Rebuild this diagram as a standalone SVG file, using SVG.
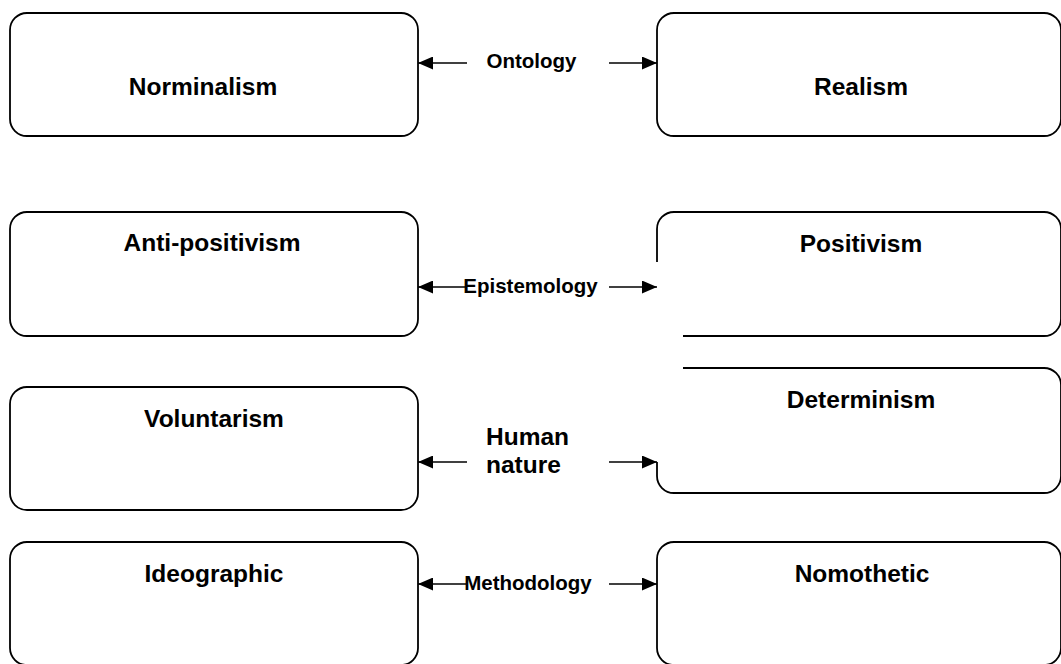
<svg xmlns="http://www.w3.org/2000/svg" width="1061" height="664" viewBox="0 0 1061 664">
  <style>
    .box { fill: #ffffff; stroke: #000000; stroke-width: 1.8; }
    .open { fill: none; stroke: #000000; stroke-width: 1.8; }
    .lbl { font-family: "Liberation Sans", Arial, sans-serif; font-weight: bold; font-size: 24.5px; fill: #000000; }
    .conn-lbl { font-family: "Liberation Sans", Arial, sans-serif; font-weight: bold; font-size: 20.5px; fill: #000000; }
    .link { stroke: #000000; stroke-width: 1.6; fill: none; marker-end: url(#head); }
  </style>
  <defs>
    <marker id="head" viewBox="0 0 15 13" refX="15" refY="6.5" markerWidth="15" markerHeight="13" markerUnits="userSpaceOnUse" orient="auto">
      <path d="M0,0 L15,6.5 L0,13 Z" fill="#000000"/>
    </marker>
  </defs>
  <rect width="1061" height="664" fill="#ffffff"/>

  <!-- left column -->
  <g id="norminalism">
    <rect class="box" x="10" y="13" width="408" height="123" rx="17"/>
    <text class="lbl" x="203" y="95" text-anchor="middle">Norminalism</text>
  </g>
  <g id="anti-positivism">
    <rect class="box" x="10" y="212" width="408" height="124" rx="17"/>
    <text class="lbl" x="212" y="251" text-anchor="middle">Anti-positivism</text>
  </g>
  <g id="voluntarism">
    <rect class="box" x="10" y="387" width="408" height="123" rx="17"/>
    <text class="lbl" x="214" y="427" text-anchor="middle">Voluntarism</text>
  </g>
  <g id="ideographic">
    <rect class="box" x="10" y="542" width="408" height="123" rx="17"/>
    <text class="lbl" x="214" y="582" text-anchor="middle">Ideographic</text>
  </g>

  <!-- right column -->
  <g id="realism">
    <rect class="box" x="657" y="13" width="404" height="123" rx="17"/>
    <text class="lbl" x="861" y="95" text-anchor="middle">Realism</text>
  </g>
  <g id="positivism">
    <path class="open" d="M657,262 L657,229 A17,17 0 0 1 674,212 L1044,212 A17,17 0 0 1 1061,229 L1061,319 A17,17 0 0 1 1044,336 L683,336"/>
    <text class="lbl" x="861" y="252" text-anchor="middle">Positivism</text>
  </g>
  <g id="determinism">
    <path class="open" d="M683,368 L1044,368 A17,17 0 0 1 1061,385 L1061,476 A17,17 0 0 1 1044,493 L674,493 A17,17 0 0 1 657,476 L657,462"/>
    <text class="lbl" x="861" y="408" text-anchor="middle">Determinism</text>
  </g>
  <g id="nomothetic">
    <rect class="box" x="657" y="542" width="404" height="123" rx="17"/>
    <text class="lbl" x="862" y="582" text-anchor="middle">Nomothetic</text>
  </g>

  <!-- connectors -->
  <g id="connectors">
    <line class="link" x1="467" y1="63" x2="418" y2="63"/>
    <line class="link" x1="609" y1="63" x2="657" y2="63"/>
    <text class="conn-lbl" x="531.5" y="68" text-anchor="middle">Ontology</text>

    <line class="link" x1="466" y1="287" x2="418" y2="287"/>
    <line class="link" x1="609" y1="287" x2="657" y2="287"/>
    <text class="conn-lbl" x="530.5" y="293" text-anchor="middle">Epistemology</text>

    <line class="link" x1="467" y1="462" x2="418" y2="462"/>
    <line class="link" x1="609" y1="462" x2="657" y2="462"/>
    <text class="lbl" x="486" y="445">Human</text>
    <text class="lbl" x="486" y="473">nature</text>

    <line class="link" x1="466" y1="584" x2="418" y2="584"/>
    <line class="link" x1="609" y1="584" x2="657" y2="584"/>
    <text class="conn-lbl" x="528" y="590" text-anchor="middle">Methodology</text>
  </g>
</svg>
